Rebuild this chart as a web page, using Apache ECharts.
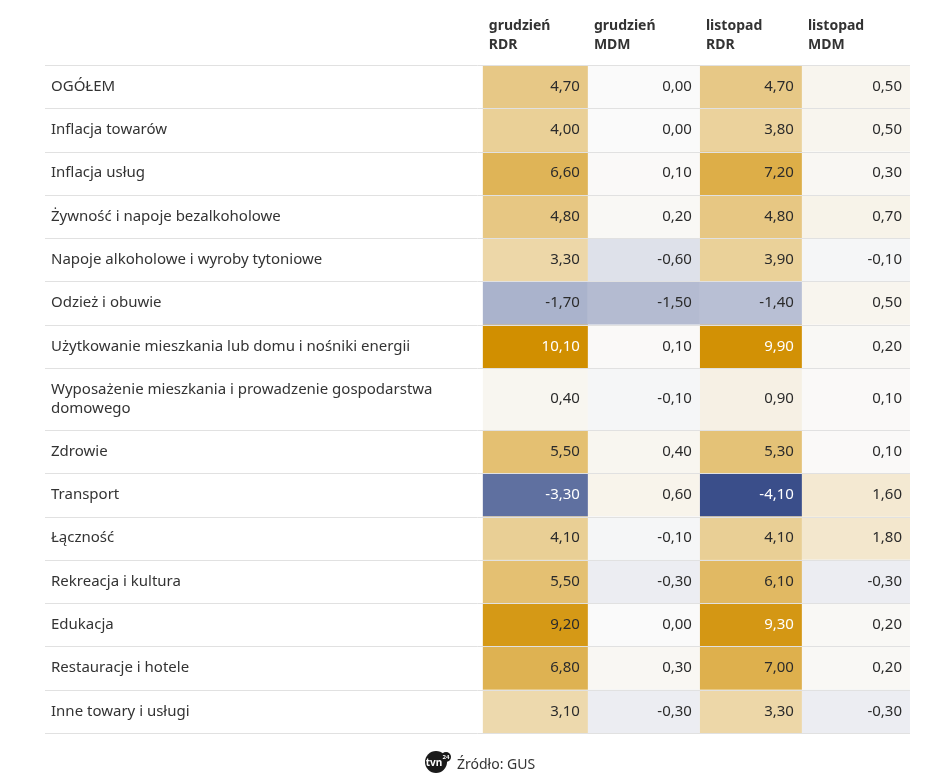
<!DOCTYPE html>
<html><head><meta charset="utf-8">
<script src="https://cdn.jsdelivr.net/npm/echarts@6/dist/echarts.min.js"></script>
<style>html,body{margin:0;padding:0;background:#fff}#c{width:935px;height:776px}</style>
</head><body><div id="c"></div>
<script>
const categories = [
  'OGÓŁEM',
  'Inflacja towarów',
  'Inflacja usług',
  'Żywność i napoje bezalkoholowe',
  'Napoje alkoholowe i wyroby tytoniowe',
  'Odzież i obuwie',
  'Użytkowanie mieszkania lub domu i nośniki energii',
  'Wyposażenie mieszkania i prowadzenie gospodarstwa domowego',
  'Zdrowie',
  'Transport',
  'Łączność',
  'Rekreacja i kultura',
  'Edukacja',
  'Restauracje i hotele',
  'Inne towary i usługi'
];
const columnLabels = ['grudzień\nRDR', 'grudzień\nMDM', 'listopad\nRDR', 'listopad\nMDM'];
const grudzienRDR = [4.7, 4.0, 6.6, 4.8, 3.3, -1.7, 10.1, 0.4, 5.5, -3.3, 4.1, 5.5, 9.2, 6.8, 3.1];
const grudzienMDM = [0.0, 0.0, 0.1, 0.2, -0.6, -1.5, 0.1, -0.1, 0.4, 0.6, -0.1, -0.3, 0.0, 0.3, -0.3];
const listopadRDR = [4.7, 3.8, 7.2, 4.8, 3.9, -1.4, 9.9, 0.9, 5.3, -4.1, 4.1, 6.1, 9.3, 7.0, 3.3];
const listopadMDM = [0.5, 0.5, 0.3, 0.7, -0.1, 0.5, 0.2, 0.1, 0.1, 1.6, 1.8, -0.3, 0.2, 0.2, -0.3];
const sourceText = 'Źródło: GUS';

// layout (not data)
const rowHeights = categories.map((c, i) => (i === 7 ? 1.43 : 1));
const rowStart = [];
let acc = 0;
rowHeights.forEach(h => { rowStart.push(acc); acc += h; });
const totalRows = acc;
const colEdges = [0, 0.984, 2.033, 2.988, 4];
const LABEL_UNITS = 4.1;
const FONT = '"Noto Sans", "Open Sans", sans-serif';
const LABEL_WIDTH = 392;

const seriesCols = [grudzienRDR, grudzienMDM, listopadRDR, listopadMDM];
const cellData = [];
seriesCols.forEach((arr, c) => arr.forEach((v, r) => cellData.push([c, r, v])));

const measureCtx = document.createElement('canvas').getContext('2d');
function wrap(text, font, width) {
  measureCtx.font = font;
  const words = text.split(' ');
  const lines = [];
  let cur = '';
  words.forEach(w => {
    const t = cur ? cur + ' ' + w : w;
    if (cur && measureCtx.measureText(t).width > width) { lines.push(cur); cur = w; }
    else cur = t;
  });
  if (cur) lines.push(cur);
  return lines.join('\n');
}

function mix(a, b, t) {
  t = Math.max(0, Math.min(1, t));
  return 'rgb(' + a.map((x, i) => Math.round(x + (b[i] - x) * t)).join(',') + ')';
}
const ZERO = [250, 250, 250], GOLD = [209, 143, 0], BLUE = [58, 78, 138];
function colorFor(v) {
  return v >= 0 ? mix(ZERO, GOLD, v / 10.1) : mix(ZERO, BLUE, -v / 4.1);
}
function fmt(v) { return v.toFixed(2).replace('.', ','); }

const chart = echarts.init(document.getElementById('c'), null, { renderer: 'canvas' });
chart.setOption({
  animation: false,
  backgroundColor: '#ffffff',
  grid: { left: 45, right: 25, top: 65, bottom: 43 },
  xAxis: { type: 'value', min: -LABEL_UNITS, max: 4, show: false },
  yAxis: { type: 'value', min: 0, max: totalRows, inverse: true, show: false },
  series: [
    {
      type: 'custom',
      clip: false,
      encode: { x: 0, y: 1 },
      data: cellData,
      renderItem: function (params, api) {
        const c = api.value(0), r = api.value(1), v = api.value(2);
        const p0 = api.coord([colEdges[c], rowStart[r]]);
        const p1 = api.coord([colEdges[c + 1], rowStart[r] + rowHeights[r]]);
        const dark = v >= 9.3 || v <= -3;
        return {
          type: 'group',
          children: [
            { type: 'rect', shape: { x: p0[0], y: p0[1], width: p1[0] - p0[0], height: p1[1] - p0[1] },
              style: { fill: colorFor(v) } },
            { type: 'text', style: { text: fmt(v), x: p1[0] - 8, y: (p0[1] + p1[1]) / 2,
              textAlign: 'right', textVerticalAlign: 'middle', fill: dark ? '#ffffff' : '#2b2b2b',
              font: '15px ' + FONT } }
          ]
        };
      }
    },
    {
      type: 'custom',
      clip: false,
      encode: { x: 0, y: 1 },
      data: categories.map((name, i) => [0, i]),
      renderItem: function (params, api) {
        const r = api.value(1);
        const top = api.coord([-LABEL_UNITS, rowStart[r]]);
        const bot = api.coord([4, rowStart[r] + rowHeights[r]]);
        const children = [
          { type: 'text', style: { text: wrap(categories[r], '15px ' + FONT, LABEL_WIDTH), x: top[0] + 6, y: (top[1] + bot[1]) / 2,
            textAlign: 'left', textVerticalAlign: 'middle', fill: '#333333',
            font: '15px ' + FONT, lineHeight: 19 } },
          { type: 'line', shape: { x1: top[0], y1: Math.round(bot[1]) + 0.5, x2: bot[0], y2: Math.round(bot[1]) + 0.5 },
            style: { stroke: '#e1e1e1', lineWidth: 1 } }
        ];
        if (r === 0) {
          children.push({ type: 'line', shape: { x1: top[0], y1: Math.round(top[1]) + 0.5, x2: bot[0], y2: Math.round(top[1]) + 0.5 },
            style: { stroke: '#e1e1e1', lineWidth: 1 } });
        }
        return { type: 'group', children: children };
      }
    },
    {
      type: 'custom',
      clip: false,
      encode: { x: 0, y: 1 },
      data: columnLabels.map((l, i) => [i, 0]),
      renderItem: function (params, api) {
        const c = api.value(0);
        const p = api.coord([colEdges[c], 0]);
        return { type: 'text', style: { text: columnLabels[c], x: p[0] + 6, y: p[1] - 48,
          textAlign: 'left', textVerticalAlign: 'top', fill: '#333333',
          font: 'bold 14px ' + FONT, lineHeight: 19 } };
      }
    }
  ],
  graphic: [
    { type: 'circle', shape: { cx: 436, cy: 762, r: 11 }, style: { fill: '#1a1a1a' } },
    { type: 'text', style: { text: 'tvn', x: 434, y: 763, textAlign: 'center', textVerticalAlign: 'middle', fill: '#fff', font: 'bold 10px ' + FONT } },
    { type: 'circle', shape: { cx: 446, cy: 757, r: 5 }, style: { fill: '#1a1a1a' } },
    { type: 'text', style: { text: '24', x: 446, y: 757, textAlign: 'center', textVerticalAlign: 'middle', fill: '#fff', font: 'bold 6px ' + FONT } },
    { type: 'text', style: { text: sourceText, x: 457, y: 765, textAlign: 'left', textVerticalAlign: 'middle', fill: '#333333', font: '14px ' + FONT } }
  ]
});
</script>
</body></html>
